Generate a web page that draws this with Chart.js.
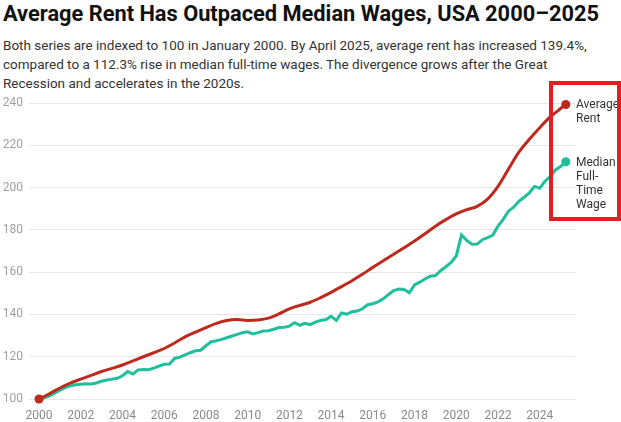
<!DOCTYPE html>
<html>
<head>
<meta charset="utf-8">
<script src="https://cdn.jsdelivr.net/npm/chart.js@4.4.1/dist/chart.umd.min.js"></script>
<style>
  html, body { margin: 0; padding: 0; background: #fff; }
  body { width: 621px; height: 422px; position: relative; overflow: hidden; font-family: Roboto, "Noto Sans", sans-serif; }
  #title { position: absolute; left: 3px; top: 1px; font-size: 21.8px; font-weight: 700; color: #111; line-height: 26px; white-space: nowrap; }
  #sub { position: absolute; left: 3px; top: 36px; font-size: 13.5px; color: #333; line-height: 19px; white-space: nowrap; }
  #wrap { position: absolute; left: 0; top: 90px; width: 621px; height: 332px; }
  #box { position: absolute; left: 549px; top: 81px; width: 72px; height: 140px; box-sizing: border-box; border: 4px solid #e51c20; pointer-events: none; }
</style>
</head>
<body>
<div id="title">Average Rent Has Outpaced Median Wages, USA 2000–2025</div>
<div id="sub">Both series are indexed to 100 in January 2000. By April 2025, average rent has increased 139.4%,<br>compared to a 112.3% rise in median full-time wages. The divergence grows after the Great<br>Recession and accelerates in the 2020s.</div>
<div id="wrap"><canvas id="chart"></canvas></div>
<div id="box"></div>
<script>
// index values, Jan 2000 = 100
const rentYears = [2000, 2000.5, 2001, 2001.5, 2002, 2002.5, 2003, 2003.5, 2004, 2004.5, 2005, 2005.5, 2006, 2006.5, 2007, 2007.5, 2008, 2008.5, 2009, 2009.5, 2010, 2010.5, 2011, 2011.5, 2012, 2012.5, 2013, 2013.5, 2014, 2014.5, 2015, 2015.5, 2016, 2016.5, 2017, 2017.5, 2018, 2018.5, 2019, 2019.5, 2020, 2020.5, 2021, 2021.5, 2022, 2022.5, 2023, 2023.5, 2024, 2024.5, 2024.75, 2025, 2025.25];
const rentValues = [100, 102.5, 105.2, 107.5, 109.4, 111.2, 113.0, 114.5, 116.1, 118.0, 120.0, 121.9, 123.9, 126.5, 129.4, 131.6, 133.8, 135.8, 137.2, 137.6, 137.2, 137.4, 138.3, 140.3, 142.7, 144.3, 145.8, 148.0, 150.5, 153.2, 156.0, 159.0, 162.3, 165.4, 168.5, 171.6, 174.8, 178.2, 181.8, 184.9, 187.6, 189.6, 191.2, 194.6, 200.6, 208.8, 216.8, 222.9, 228.4, 233.5, 235.5, 237.5, 239.4];

const wageYears = [2000, 2000.25, 2000.5, 2000.75, 2001, 2001.25, 2001.5, 2001.75, 2002, 2002.25, 2002.5, 2002.75, 2003, 2003.25, 2003.5, 2003.75, 2004, 2004.25, 2004.5, 2004.75, 2005, 2005.25, 2005.5, 2005.75, 2006, 2006.25, 2006.5, 2006.75, 2007, 2007.25, 2007.5, 2007.75, 2008, 2008.25, 2008.5, 2008.75, 2009, 2009.25, 2009.5, 2009.75, 2010, 2010.25, 2010.5, 2010.75, 2011, 2011.25, 2011.5, 2011.75, 2012, 2012.25, 2012.5, 2012.75, 2013, 2013.25, 2013.5, 2013.75, 2014, 2014.25, 2014.5, 2014.75, 2015, 2015.25, 2015.5, 2015.75, 2016, 2016.25, 2016.5, 2016.75, 2017, 2017.25, 2017.5, 2017.75, 2018, 2018.25, 2018.5, 2018.75, 2019, 2019.25, 2019.5, 2019.75, 2020, 2020.25, 2020.5, 2020.75, 2021, 2021.25, 2021.5, 2021.75, 2022, 2022.25, 2022.5, 2022.75, 2023, 2023.25, 2023.5, 2023.75, 2024, 2024.25, 2024.5, 2024.75, 2025, 2025.25];
const wageValues = [100, 100.6, 101.5, 102.8, 104.2, 105.4, 106.2, 106.7, 107.0, 107.2, 107.1, 107.6, 108.4, 109.0, 109.4, 109.8, 111.0, 113.0, 111.8, 113.8, 114.0, 113.9, 114.6, 115.6, 116.4, 116.6, 119.2, 119.8, 120.9, 121.9, 122.8, 123.1, 125.2, 127.1, 127.6, 128.2, 129.0, 129.8, 130.6, 131.4, 131.8, 130.8, 131.4, 132.2, 132.3, 133.0, 133.8, 133.9, 134.5, 136.1, 134.9, 135.8, 135.2, 136.4, 137.2, 137.6, 139.1, 137.2, 140.7, 140.1, 141.3, 141.6, 142.7, 144.6, 145.1, 146.0, 147.4, 149.5, 151.3, 152.0, 151.8, 150.3, 154.0, 155.3, 156.8, 158.1, 158.4, 160.7, 162.6, 164.6, 167.7, 177.6, 175.1, 173.2, 173.3, 175.4, 176.4, 177.6, 181.8, 185.0, 188.9, 190.8, 193.6, 195.5, 197.5, 200.6, 199.8, 203.0, 205.3, 208.4, 210.0, 212.3];

const xTicks = [2000, 2002, 2004, 2006, 2008, 2010, 2012, 2014, 2016, 2018, 2020, 2022, 2024];
const yTicks = [100, 120, 140, 160, 180, 200, 220, 240];
const seriesNames = [['Average', 'Rent'], ['Median', 'Full-', 'Time', 'Wage']];

const RED = '#bd2a1d';
const TEAL = '#1fbf9d';

function toPoints(xs, ys) {
  return xs.map((x, i) => ({ x: x, y: ys[i] }));
}

// end-of-line labels next to the last point
const endLabels = {
  id: 'endLabels',
  afterDatasetsDraw(chart) {
    const ctx = chart.ctx;
    const area = chart.chartArea;
    ctx.save();
    ctx.font = '12px Roboto, "Noto Sans", sans-serif';
    ctx.fillStyle = '#333';
    ctx.textBaseline = 'middle';
    ctx.textAlign = 'left';
    chart.data.datasets.forEach((ds, i) => {
      const meta = chart.getDatasetMeta(i);
      const last = meta.data[meta.data.length - 1];
      seriesNames[i].forEach((line, j) => {
        ctx.fillText(line, area.right + 1, last.y + 1 + j * 14);
      });
    });
    ctx.restore();
  }
};

const ctx = document.getElementById('chart').getContext('2d');
const chart = new Chart(ctx, {
  type: 'line',
  data: {
    datasets: [{
      label: 'Average Rent',
      data: toPoints(rentYears, rentValues),
      borderColor: RED,
      backgroundColor: RED,
      borderWidth: 3,
      cubicInterpolationMode: 'monotone',
      clip: false,
      pointStyle: 'circle',
      pointRadius: rentYears.map((y, i) => (i === 0 || i === rentYears.length - 1) ? 4.5 : 0),
      pointBorderWidth: 0,
      pointBackgroundColor: RED,
      order: 1
    }, {
      label: 'Median Full-Time Wage',
      data: toPoints(wageYears, wageValues),
      borderColor: TEAL,
      backgroundColor: TEAL,
      borderWidth: 3,
      tension: 0,
      clip: false,
      pointStyle: 'circle',
      pointRadius: wageYears.map((y, i) => i === wageYears.length - 1 ? 4.5 : 0),
      pointBorderWidth: 0,
      pointBackgroundColor: TEAL,
      order: 2
    }]
  },
  options: {
    responsive: true,
    maintainAspectRatio: false,
    animation: false,
    layout: { padding: { top: 11, right: 46, bottom: 0, left: 0 } },
    plugins: {
      legend: { display: false },
      tooltip: { enabled: false }
    },
    scales: {
      x: {
        type: 'linear',
        min: 1999.52,
        max: 2025.69,
        afterBuildTicks: s => { s.ticks = xTicks.map(v => ({ value: v })); },
        afterFit: s => { s.height = 23; },
        grid: { display: false },
        border: { display: false },
        ticks: {
          color: '#8a8a8a',
          font: { family: 'Roboto', size: 12 },
          padding: 2,
          maxRotation: 0,
          callback: v => String(v)
        }
      },
      y: {
        min: 100,
        max: 240,
        afterBuildTicks: s => { s.ticks = yTicks.map(v => ({ value: v })); },
        afterFit: s => { s.width = 29; },
        grid: { color: '#e6e6e6', lineWidth: 1, drawTicks: false },
        border: { display: false },
        ticks: {
          color: '#a0a0a0',
          font: { family: 'Roboto', size: 12 },
          padding: 6
        }
      }
    }
  },
  plugins: [endLabels]
});
</script>
</body>
</html>
